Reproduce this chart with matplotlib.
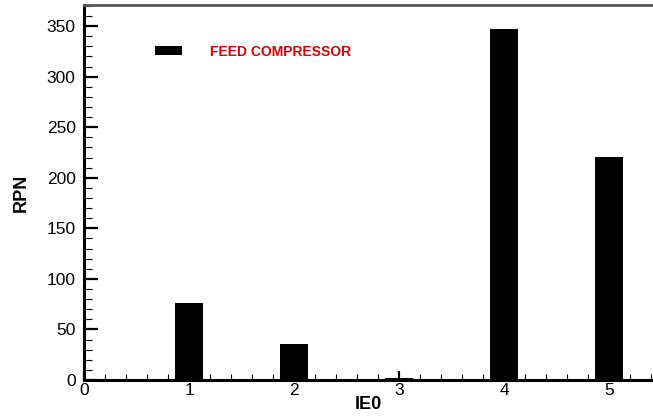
import matplotlib
matplotlib.use("Agg")
import matplotlib.pyplot as plt
from matplotlib.ticker import MultipleLocator
from matplotlib.patches import Patch

categories = [1, 2, 3, 4, 5]
rpn_values = [76, 36, 2, 347, 221]
series_name = "FEED COMPRESSOR"
x_ticks = [0, 1, 2, 3, 4, 5]
y_ticks = [0, 50, 100, 150, 200, 250, 300, 350]

plt.rcParams['font.family'] = ['Liberation Sans', 'DejaVu Sans']

fig = plt.figure(figsize=(6.53, 4.17), dpi=100)
ax = fig.add_axes([84/653, 37/417, 569/653, 375/417])

ax.bar(categories, rpn_values, width=0.27, color='black', zorder=3)

ax.set_xlim(0, 569/105)
ax.set_ylim(0, 375/1.011)
ax.set_xticks(x_ticks)
ax.set_yticks(y_ticks)
ax.xaxis.set_minor_locator(MultipleLocator(0.2))
ax.yaxis.set_minor_locator(MultipleLocator(10))

ax.tick_params(axis='y', which='major', direction='in', length=10, width=1.6, labelsize=12.5, pad=6)
ax.tick_params(axis='y', which='minor', direction='in', length=5.5, width=0.8)
ax.tick_params(axis='x', which='major', direction='in', length=6.5, width=1.6, labelsize=12.5, pad=2)
ax.tick_params(axis='x', which='minor', direction='in', length=4, width=0.8)

ax.spines['right'].set_visible(False)
ax.spines['left'].set_linewidth(2.2)
ax.spines['bottom'].set_linewidth(2.2)
ax.spines['top'].set_linewidth(2)
ax.spines['top'].set_color('#555555')

ax.set_xlabel('IE0', fontsize=13, fontweight='bold', labelpad=-1)
ax.set_ylabel('RPN', fontsize=13, fontweight='bold', labelpad=12)

handle = Patch(facecolor='black', edgecolor='none')
leg = ax.legend([handle], [series_name], loc='center left',
                bbox_to_anchor=((155-84)/569, (380-51.5)/375),
                frameon=False, fontsize=10, borderpad=0, borderaxespad=0,
                handlelength=1.94, handleheight=0.65, handletextpad=2.05)
for t in leg.get_texts():
    t.set_color('#d40000')
    t.set_fontweight('bold')

fig.savefig('out.png', dpi=100)
